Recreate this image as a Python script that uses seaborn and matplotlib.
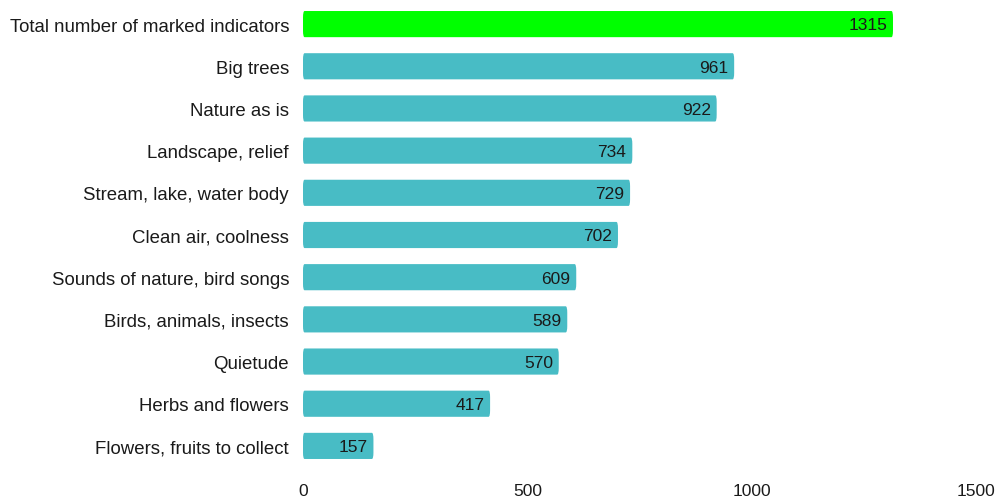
import matplotlib
matplotlib.use("Agg")
import matplotlib.pyplot as plt
import seaborn as sns
import pandas as pd
from matplotlib.patches import FancyBboxPatch

categories = [
    "Total number of marked indicators",
    "Big trees",
    "Nature as is",
    "Landscape, relief",
    "Stream, lake, water body",
    "Clean air, coolness",
    "Sounds of nature, bird songs",
    "Birds, animals, insects",
    "Quietude",
    "Herbs and flowers",
    "Flowers, fruits to collect",
]
values = [1315, 961, 922, 734, 729, 702, 609, 589, 570, 417, 157]
x_ticks = [0, 500, 1000, 1500]

TEAL = "#48bcc5"
GREEN = "#00ff00"
colors = [GREEN] + [TEAL] * (len(categories) - 1)

df = pd.DataFrame({"category": categories, "value": values})

sns.set_theme(style="white")
plt.rcParams["font.family"] = ["Liberation Sans", "DejaVu Sans"]

fig = plt.figure(figsize=(10.02, 5.02), dpi=100)
ax = fig.add_axes([303 / 1002, 1 - 468 / 502, (976 - 303) / 1002, 464 / 502])

sns.barplot(data=df, x="value", y="category", hue="category",
            palette=colors, legend=False, width=0.62, ax=ax,
            saturation=1, edgecolor="none")

# round the bar corners slightly
for patch in list(ax.patches):
    x, y = patch.get_x(), patch.get_y()
    w, h = patch.get_width(), patch.get_height()
    fc = patch.get_facecolor()
    patch.remove()
    rounded = FancyBboxPatch((x, y), w, h,
                             boxstyle="round,pad=0,rounding_size=3.5",
                             mutation_aspect=h / 14,
                             facecolor=fc, edgecolor="none")
    ax.add_patch(rounded)

for i, v in enumerate(values):
    ax.text(v - 13, i + 0.02, f"{v}", ha="right", va="center",
            fontsize=12.5, color="#1a1a1a")

ax.set_xlim(0, 1500)
ax.set_ylim(len(categories) - 0.5, -0.5)
ax.set_xticks(x_ticks)
ax.set_xticklabels([str(t) for t in x_ticks])
ax.set_xlabel("")
ax.set_ylabel("")
for s in ax.spines.values():
    s.set_visible(False)
ax.tick_params(axis="x", length=0, pad=17, labelsize=12.5, colors="#1a1a1a")
ax.tick_params(axis="y", length=0, pad=10, labelsize=13.4, colors="#1a1a1a")
for lbl in ax.get_xticklabels():
    lbl.set_verticalalignment("center")
ax.grid(False)

fig.savefig("out.png", dpi=100)
